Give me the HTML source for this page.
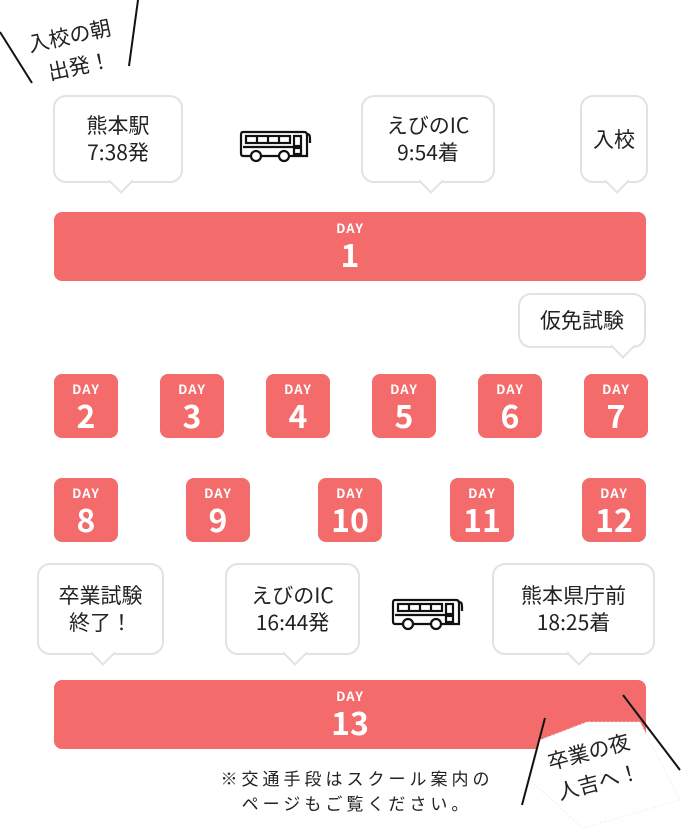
<!DOCTYPE html>
<html><head><meta charset="utf-8"><style>
*{margin:0;padding:0;box-sizing:border-box}
body{width:681px;height:839px;background:#fff;position:relative;overflow:hidden;font-family:"Noto Sans CJK JP","Liberation Sans",sans-serif;color:#222}
.a{position:absolute}
.bar{position:absolute;background:#f46b6b;border-radius:8px;color:#fff;text-align:center}
.bar .d{font-size:13px;font-weight:bold;letter-spacing:1px;margin-top:9px;line-height:14px}
.bar .n{font-size:32px;font-weight:bold;line-height:38px}
.box{position:absolute;width:64px;height:64px;background:#f46b6b;border-radius:8px;color:#fff;text-align:center}
.box .d{font-size:13px;font-weight:bold;letter-spacing:1px;margin-top:8px;line-height:14px}
.box .n{font-size:32px;font-weight:bold;line-height:38px}
.bub{position:absolute;background:#fff;border:2px solid #e2e2e2;border-radius:13px;display:flex;align-items:center;justify-content:center;text-align:center;font-size:21px;line-height:27px;color:#222}
.bub::after{content:"";position:absolute;width:16px;height:16px;background:#fff;border-right:2px solid #e2e2e2;border-bottom:2px solid #e2e2e2;transform:rotate(45deg);bottom:-9px;left:var(--t)}
.bub span{position:relative;z-index:1}
</style></head><body>
<svg class="a" style="left:0;top:0" width="681" height="839">
<line x1="0" y1="32" x2="32" y2="83" stroke="#111" stroke-width="2"/>
<line x1="138" y1="0" x2="129" y2="66" stroke="#111" stroke-width="2"/>
<text x="30" y="52" font-size="21" transform="rotate(-12 30 52)" font-family="Noto Sans CJK JP, sans-serif" fill="#222">入校の朝</text>
<text x="50" y="80" font-size="21" transform="rotate(-12 50 80)" font-family="Noto Sans CJK JP, sans-serif" fill="#222">出発！</text>
</svg>

<div class="bub" style="left:53px;top:95px;width:130px;height:88px;--t:57px"><span>熊本駅<br>7:38発</span></div>
<div class="bub" style="left:361px;top:95px;width:134px;height:88px;--t:59px"><span>えびのIC<br>9:54着</span></div>
<div class="bub" style="left:580px;top:95px;width:68px;height:88px;--t:26px"><span>入校</span></div>

<svg class="a" style="left:238px;top:126px" width="76" height="38" viewBox="0 0 76 38">
<g fill="none" stroke="#111" stroke-width="2.2">
<path d="M5 6 H66 Q69 6 69 9 V30 H5 Q3 30 3 27 V9 Q3 6 5 6Z"/>
<rect x="8" y="10" width="44" height="7"/>
<line x1="19" y1="10" x2="19" y2="17"/><line x1="30" y1="10" x2="30" y2="17"/><line x1="41" y1="10" x2="41" y2="17"/>
<line x1="5" y1="21" x2="55" y2="21"/>
<rect x="56" y="10" width="7" height="10"/><rect x="56" y="22" width="7" height="6"/>
<path d="M69 8 Q72 8 72 12 V17"/>
<circle cx="18" cy="30" r="5" fill="#fff"/><circle cx="46" cy="30" r="5" fill="#fff"/>
</g></svg>

<div class="bar" style="left:54px;top:212px;width:592px;height:69px"><div class="d">DAY</div><div class="n">1</div></div>

<div class="bub" style="left:518px;top:293px;width:128px;height:55px;--t:94px"><span>仮免試験</span></div>

<div class="box" style="left:54px;top:374px"><div class="d">DAY</div><div class="n">2</div></div>
<div class="box" style="left:160px;top:374px"><div class="d">DAY</div><div class="n">3</div></div>
<div class="box" style="left:266px;top:374px"><div class="d">DAY</div><div class="n">4</div></div>
<div class="box" style="left:372px;top:374px"><div class="d">DAY</div><div class="n">5</div></div>
<div class="box" style="left:478px;top:374px"><div class="d">DAY</div><div class="n">6</div></div>
<div class="box" style="left:584px;top:374px"><div class="d">DAY</div><div class="n">7</div></div>

<div class="box" style="left:54px;top:478px"><div class="d">DAY</div><div class="n">8</div></div>
<div class="box" style="left:186px;top:478px"><div class="d">DAY</div><div class="n">9</div></div>
<div class="box" style="left:318px;top:478px"><div class="d">DAY</div><div class="n">10</div></div>
<div class="box" style="left:450px;top:478px"><div class="d">DAY</div><div class="n">11</div></div>
<div class="box" style="left:582px;top:478px"><div class="d">DAY</div><div class="n">12</div></div>

<div class="bub" style="left:37px;top:563px;width:127px;height:92px;--t:55px"><span>卒業試験<br>終了！</span></div>
<div class="bub" style="left:225px;top:563px;width:135px;height:92px;--t:59px"><span>えびのIC<br>16:44発</span></div>
<div class="bub" style="left:492px;top:563px;width:163px;height:92px;--t:76px"><span>熊本県庁前<br>18:25着</span></div>

<svg class="a" style="left:390px;top:594px" width="76" height="38" viewBox="0 0 76 38">
<g fill="none" stroke="#111" stroke-width="2.2">
<path d="M5 6 H66 Q69 6 69 9 V30 H5 Q3 30 3 27 V9 Q3 6 5 6Z"/>
<rect x="8" y="10" width="44" height="7"/>
<line x1="19" y1="10" x2="19" y2="17"/><line x1="30" y1="10" x2="30" y2="17"/><line x1="41" y1="10" x2="41" y2="17"/>
<line x1="5" y1="21" x2="55" y2="21"/>
<rect x="56" y="10" width="7" height="10"/><rect x="56" y="22" width="7" height="6"/>
<path d="M69 8 Q72 8 72 12 V17"/>
<circle cx="18" cy="30" r="5" fill="#fff"/><circle cx="46" cy="30" r="5" fill="#fff"/>
</g></svg>

<div class="bar" style="left:54px;top:680px;width:592px;height:69px"><div class="d">DAY</div><div class="n">13</div></div>

<div class="a" style="left:0;top:765px;width:714px;text-align:center;font-size:17px;line-height:25px;letter-spacing:4px;color:#222">※交通手段はスクール案内の<br>ページもご覧ください。</div>

<svg class="a" style="left:0;top:0" width="681" height="839">
<polygon points="540,740 587,722 640,722 680,800 583,828 530,780" fill="#fff" stroke="#eee" stroke-width="1" stroke-dasharray="2,2"/>
<line x1="545" y1="718" x2="522" y2="805" stroke="#111" stroke-width="2"/>
<line x1="623" y1="695" x2="680" y2="770" stroke="#111" stroke-width="2"/>
<text x="550" y="770" font-size="21" transform="rotate(-15 550 770)" font-family="Noto Sans CJK JP, sans-serif" fill="#222">卒業の夜</text>
<text x="560" y="800" font-size="21" transform="rotate(-15 560 800)" font-family="Noto Sans CJK JP, sans-serif" fill="#222">人吉へ！</text>
</svg>
</body></html>
